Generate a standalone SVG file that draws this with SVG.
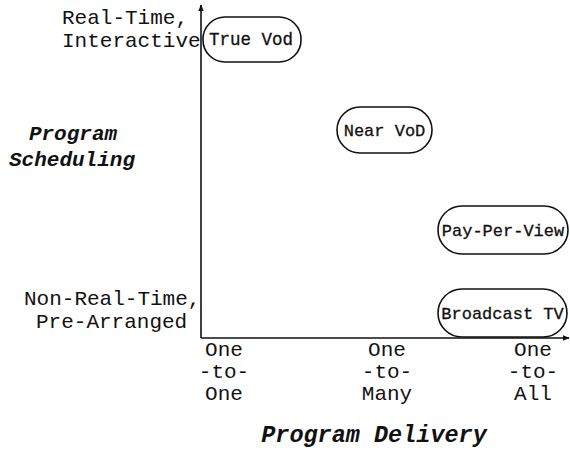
<svg xmlns="http://www.w3.org/2000/svg" width="570" height="453" viewBox="0 0 570 453">
<style>
.ax{font-family:"Liberation Mono","DejaVu Sans Mono",monospace;font-size:21px;fill:#111}
.ttl{font-family:"Liberation Mono","DejaVu Sans Mono",monospace;font-size:21px;font-weight:bold;font-style:italic;fill:#111}
.nl{font-family:"Liberation Mono","DejaVu Sans Mono",monospace;font-size:17px;fill:#111;stroke:#111;stroke-width:0.3;text-anchor:middle}
.box{fill:#fff;stroke:#111;stroke-width:1.6}
.line{stroke:#111;stroke-width:1.6;fill:none}
.mid{text-anchor:middle}
</style>
<defs>
<marker id="arr" viewBox="0 0 10 10" refX="9" refY="5" markerWidth="7" markerHeight="7" orient="auto" markerUnits="userSpaceOnUse">
<path d="M0,1 L10,5 L0,9 Z" fill="#111"/>
</marker>
</defs>
<rect width="570" height="453" fill="#fff"/>
<g id="connectors">
<line class="line" x1="201" y1="338" x2="201" y2="5" marker-end="url(#arr)"/>
<line class="line" x1="201" y1="338" x2="569" y2="338" marker-end="url(#arr)"/>
</g>
<g id="labels">
<text class="ax" x="62" y="24">Real-Time,</text>
<text class="ax" x="62" y="47">Interactive</text>
<text class="ttl mid" x="73" y="140">Program</text>
<text class="ttl mid" x="72" y="166">Scheduling</text>
<text class="ax" x="24" y="305">Non-Real-Time,</text>
<text class="ax" x="36" y="328">Pre-Arranged</text>
<text class="ax mid" x="224" y="356">One</text>
<text class="ax mid" x="224" y="378">-to-</text>
<text class="ax mid" x="224" y="400">One</text>
<text class="ax mid" x="387" y="356">One</text>
<text class="ax mid" x="387" y="378">-to-</text>
<text class="ax mid" x="387" y="400">Many</text>
<text class="ax mid" x="533" y="356">One</text>
<text class="ax mid" x="533" y="378">-to-</text>
<text class="ax mid" x="533" y="400">All</text>
<text class="ttl mid" x="374" y="442" style="font-size:23.5px">Program Delivery</text>
</g>
<g id="true-vod">
<rect class="box" x="203" y="17" width="98" height="45" rx="22" ry="22"/>
<text class="nl" x="251" y="45" style="font-size:17.5px">True Vod</text>
</g>
<g id="near-vod">
<rect class="box" x="337" y="107" width="95" height="46" rx="23" ry="23"/>
<text class="nl" x="384.5" y="136">Near VoD</text>
</g>
<g id="pay-per-view">
<rect class="box" x="438" y="206" width="130" height="48" rx="24" ry="24"/>
<text class="nl" x="503" y="236">Pay-Per-View</text>
</g>
<g id="broadcast-tv">
<rect class="box" x="438" y="289" width="129" height="48" rx="24" ry="24"/>
<text class="nl" x="502.5" y="319">Broadcast TV</text>
</g>
</svg>
